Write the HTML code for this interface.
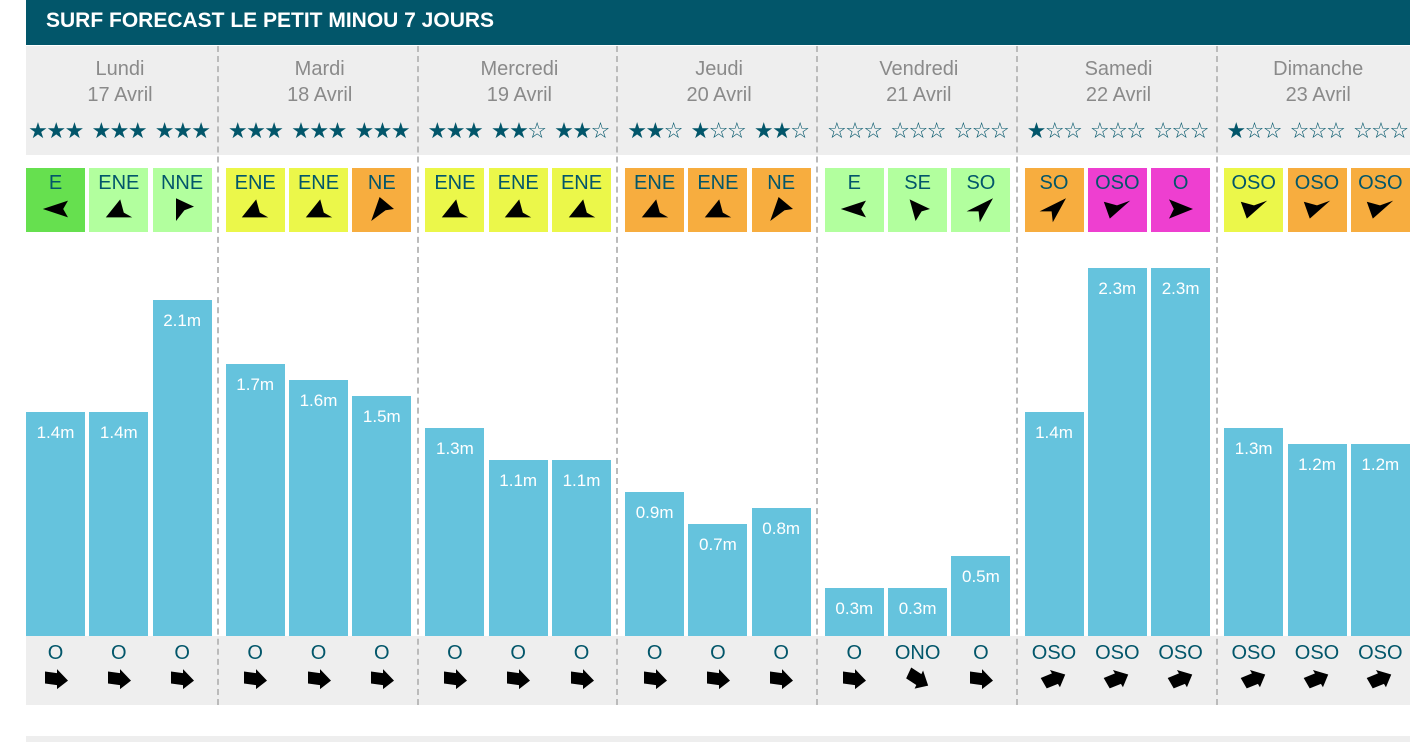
<!DOCTYPE html>
<html><head><meta charset="utf-8"><style>
body{margin:0;width:1422px;height:742px;background:#fff;font-family:"Liberation Sans",sans-serif;position:relative;overflow:hidden}
.a{position:absolute}
.hdr{left:26px;top:0;width:1384px;height:45px;background:#02566A;color:#fff;font-weight:bold;font-size:21px;line-height:42px;padding-left:20px;box-sizing:border-box}
.g{background:#eeeeee}
.day{color:#8a8a8a;font-size:20px;text-align:center;line-height:26px}
.st{color:#02566A;font-size:22px;line-height:26px;text-align:center;letter-spacing:-1.5px;white-space:nowrap;font-family:"DejaVu Sans",sans-serif}
.wb{width:59px;height:64px;text-align:center;color:#02566A;font-size:20px}
.bar{background:#65C3DD;width:59px;color:#fff;font-size:17px;text-align:center;box-sizing:border-box;padding-top:11px}
.sw{width:59px;text-align:center;color:#02566A;font-size:20px}
.dash{width:0;border-left:2px dashed #bbb}
</style></head><body>
<div class="a hdr">SURF FORECAST LE PETIT MINOU 7 JOURS</div>
<div class="a g" style="left:26px;top:46px;width:1384px;height:109px"></div>
<div class="a g" style="left:26px;top:636px;width:1384px;height:69px"></div>
<div class="a g" style="left:26px;top:736px;width:1384px;height:6px"></div>
<div id="c"></div>
<script>
const days=[["Lundi","17 Avril"],["Mardi","18 Avril"],["Mercredi","19 Avril"],["Jeudi","20 Avril"],["Vendredi","21 Avril"],["Samedi","22 Avril"],["Dimanche","23 Avril"]];
const stars=[[3,3,3],[3,3,3],[3,2,2],[2,1,2],[0,0,0],[1,0,0],[1,0,0]];
const G='#66E04F',L='#B2FF9E',Y='#EBF74A',O='#F7AD3F',M='#EE3FD0';
const P={
 E:"-11,0 10,-7 6,0 10,7",
 ENE:"-11,7 1,-8 4,3 11,7",
 NNE:"-5,-9 10,-2 2,1 -5,10",
 NE:"-2,-10 10,0 3,1 -9,10",
 SE:"-7,-8 10,0 3,2 -2,10",
 SO:"10,-9 -12,2 -2,2 -1,11",
 OSO:"-11,-6 0,-3 11,-7 -6,8",
 O:"10,0 -10,-8 -6,0 -10,8"
};
const wind=[[["E",G],["ENE",L],["NNE",L]],[["ENE",Y],["ENE",Y],["NE",O]],[["ENE",Y],["ENE",Y],["ENE",Y]],[["ENE",O],["ENE",O],["NE",O]],[["E",L],["SE",L],["SO",L]],[["SO",O],["OSO",M],["O",M]],[["OSO",Y],["OSO",O],["OSO",O]]];
const h=[[1.4,1.4,2.1],[1.7,1.6,1.5],[1.3,1.1,1.1],[0.9,0.7,0.8],[0.3,0.3,0.5],[1.4,2.3,2.3],[1.3,1.2,1.2]];
const sw=[[["O",0],["O",0],["O",0]],[["O",0],["O",0],["O",0]],[["O",0],["O",0],["O",0]],[["O",0],["O",0],["O",0]],[["O",0],["ONO",25],["O",0]],[["OSO",-30],["OSO",-30],["OSO",-30]],[["OSO",-30],["OSO",-30],["OSO",-30]]];
let s='';
for(let d=0;d<7;d++){
 const x0=26+d*199.7;
 s+=`<div class="a day" style="left:${x0}px;top:56px;width:188px">${days[d][0]}<br>${days[d][1]}</div>`;
 if(d<6)s+=`<div class="a dash" style="left:${x0+191}px;top:46px;height:659px"></div>`;
 for(let i=0;i<3;i++){
  const x=x0+i*63.3;
  let t='';for(let k=0;k<3;k++)t+=k<stars[d][i]?'★':'☆';
  s+=`<div class="a st" style="left:${x-2}px;top:119px;width:63px">${t}</div>`;
  const w=wind[d][i];
  s+=`<div class="a wb" style="left:${x}px;top:168px;background:${w[1]}"><div style="padding-top:4px">${w[0]}</div><svg width="34" height="28" style="margin-top:0px"><polygon transform="translate(17,14) scale(1.2)" points="${P[w[0]]}" fill="#000"/></svg></div>`;
  const hh=Math.round(h[d][i]*160);
  s+=`<div class="a bar" style="left:${x}px;top:${636-hh}px;height:${hh}px">${h[d][i]}m</div>`;
  const q=sw[d][i];
  s+=`<div class="a sw" style="left:${x}px;top:642px">${q[0]}<br><svg width="30" height="26" style="margin-top:1px"><g transform="translate(15,13) rotate(${q[1]})"><path d="M-11,-6 L1,-6 L1,-10 L12,0 L1,10 L1,6 L-11,6 Z" fill="#000" transform="skewY(8)"/></g></svg></div>`;
 }
}
document.getElementById('c').innerHTML=s;
</script>
</body></html>
